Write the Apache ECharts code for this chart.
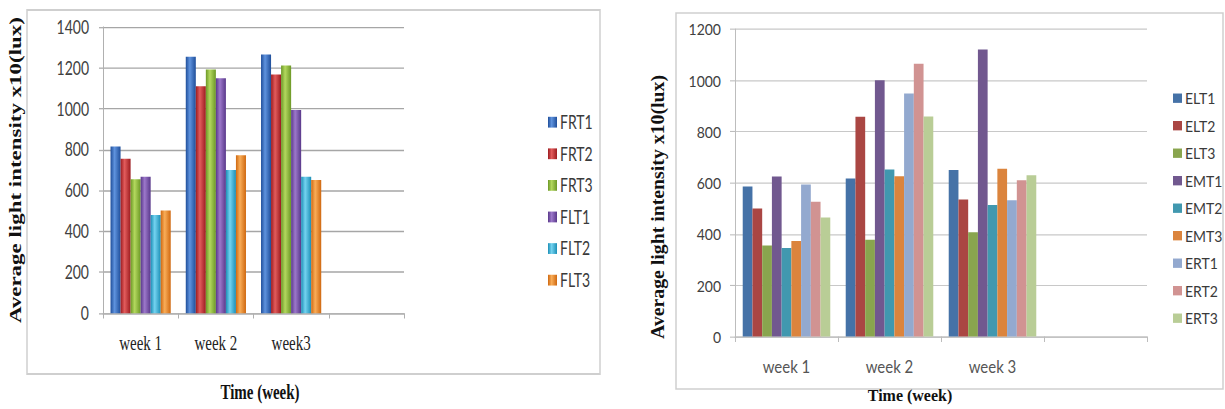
<!DOCTYPE html>
<html>
<head>
<meta charset="utf-8">
<script src="https://cdn.jsdelivr.net/npm/echarts@6/dist/echarts.min.js"></script>
<style>
  html, body { margin: 0; padding: 0; background: #ffffff; }
  body { width: 1225px; height: 409px; position: relative; overflow: hidden; }
  .panel { position: absolute; top: 0; transform-origin: 0 0; }
</style>
</head>
<body>
<div id="left" class="panel"></div>
<div id="right" class="panel"></div>
<script>
// ---- Left panel: F series ----
const leftWeeks = ['week 1', 'week 2', 'week3', ''];
const leftNames = ['FRT1', 'FRT2', 'FRT3', 'FLT1', 'FLT2', 'FLT3'];
const FRT1 = [816, 1255, 1265];
const FRT2 = [755, 1110, 1168];
const FRT3 = [655, 1192, 1212];
const FLT1 = [668, 1149, 994];
const FLT2 = [480, 700, 668];
const FLT3 = [502, 773, 652];
const leftTicks = { min: 0, max: 1400, step: 200 };

// ---- Right panel: E series ----
const rightWeeks = ['week 1', 'week 2', 'week 3', ''];
const rightNames = ['ELT1', 'ELT2', 'ELT3', 'EMT1', 'EMT2', 'EMT3', 'ERT1', 'ERT2', 'ERT3'];
const ELT1 = [586, 617, 650];
const ELT2 = [500, 858, 535];
const ELT3 = [355, 378, 407];
const EMT1 = [625, 1000, 1120];
const EMT2 = [346, 652, 513];
const EMT3 = [373, 626, 655];
const ERT1 = [593, 948, 532];
const ERT2 = [526, 1064, 610];
const ERT3 = [465, 859, 629];
const rightTicks = { min: 0, max: 1200, step: 200 };

const leftValues = [FRT1, FRT2, FRT3, FLT1, FLT2, FLT3];
const rightValues = [ELT1, ELT2, ELT3, EMT1, EMT2, EMT3, ERT1, ERT2, ERT3];

// Cylinder-like shading for the left bars: [edge, highlight]
const leftShades = [
  ['#1f4e9a', '#5f93de'],
  ['#9c1b1f', '#e25c5c'],
  ['#6c9826', '#b3d85e'],
  ['#59388a', '#9c78ca'],
  ['#1c8fb6', '#74d3f0'],
  ['#cf6810', '#f9ad58']
];
const rightColors = ['#4572a7', '#aa4643', '#89a54e', '#71588f', '#4198af', '#db843d', '#93a9cf', '#d19392', '#b9cd96'];

const SANS = 'Lato, "Open Sans", "Liberation Sans", sans-serif';
const SERIF = '"Liberation Serif", "DejaVu Serif", serif';

function cylinder(edge, light) {
  return {
    type: 'linear', x: 0, y: 0, x2: 1, y2: 0,
    colorStops: [
      { offset: 0, color: edge },
      { offset: 0.4, color: light },
      { offset: 1, color: edge }
    ]
  };
}

// Plain integers on the value axes (no thousands separator)
const plainNumber = v => String(v);

// Each panel is drawn at reduced height and stretched vertically with CSS.
function setupPanel(id, left, width, sy) {
  const el = document.getElementById(id);
  el.style.left = left + 'px';
  el.style.width = width + 'px';
  el.style.height = (409 / sy) + 'px';
  el.style.transform = 'scaleY(' + sy + ')';
  return echarts.init(el, null, { renderer: 'svg' });
}

// ---------- Left chart ----------
const SYL = 1.35;
const leftChart = setupPanel('left', 0, 612, SYL);
leftChart.setOption({
  animation: false,
  backgroundColor: '#ffffff',
  graphic: [{
    type: 'rect',
    shape: { x: 27, y: 10 / SYL, width: 573, height: 364 / SYL },
    style: { fill: 'none', stroke: '#cfcfcf', lineWidth: 1.5 },
    silent: true
  }],
  grid: { left: 103, top: 27 / SYL, width: 301, height: 290 / SYL, containLabel: false },
  legend: {
    orient: 'vertical',
    left: 543,
    top: 106 / SYL,
    itemWidth: 9,
    itemHeight: 8,
    itemGap: 9.4,
    icon: 'rect',
    data: leftNames,
    textStyle: { fontFamily: SANS, fontSize: 14, lineHeight: 14, color: '#3a3a3a', padding: [0, 0, 0, -2] }
  },
  xAxis: {
    type: 'category',
    data: leftWeeks,
    axisLine: { show: true, lineStyle: { color: '#b0b0b0', width: 1 } },
    axisTick: { show: true, length: 4, lineStyle: { color: '#b0b0b0' } },
    axisLabel: { fontFamily: SERIF, fontSize: 15, color: '#222222', margin: 15 },
    name: 'Time (week)',
    nameLocation: 'middle',
    nameGap: 51,
    nameTextStyle: { fontFamily: SERIF, fontSize: 15, fontWeight: 'bold', color: '#111111', padding: [0, 0, 0, 13] }
  },
  yAxis: {
    type: 'value',
    min: leftTicks.min,
    max: leftTicks.max,
    interval: leftTicks.step,
    axisLine: { show: true, lineStyle: { color: '#b0b0b0', width: 1 } },
    axisTick: { show: true, length: 4, lineStyle: { color: '#b0b0b0' } },
    splitLine: { show: true, lineStyle: { color: '#a6a6a6', width: 1 } },
    axisLabel: { fontFamily: SANS, fontSize: 14, color: '#404040', margin: 14, formatter: plainNumber },
    name: 'Average light intensity x10(lux)',
    nameLocation: 'middle',
    nameGap: 79,
    nameRotate: 90,
    nameTextStyle: { fontFamily: SERIF, fontSize: 17, fontWeight: 'bold', color: '#111111' }
  },
  series: leftNames.map((name, i) => ({
    name: name,
    type: 'bar',
    data: leftValues[i],
    barGap: '0%',
    barCategoryGap: '20%',
    itemStyle: { color: cylinder(leftShades[i][0], leftShades[i][1]) }
  }))
});

// ---------- Right chart ----------
const SYR = 1.1;
const RX = 612;
const rightChart = setupPanel('right', RX, 613, SYR);
rightChart.setOption({
  animation: false,
  backgroundColor: '#ffffff',
  graphic: [{
    type: 'rect',
    shape: { x: 676 - RX, y: 13 / SYR, width: 547, height: 376 / SYR },
    style: { fill: 'none', stroke: '#cfcfcf', lineWidth: 1.5 },
    silent: true
  }],
  grid: { left: 735 - RX, top: 29 / SYR, width: 412, height: 310 / SYR, containLabel: false },
  legend: {
    orient: 'vertical',
    left: 1168 - RX,
    top: 85 / SYR,
    itemWidth: 9,
    itemHeight: 8.5,
    itemGap: 11,
    icon: 'rect',
    data: rightNames,
    textStyle: { fontFamily: SANS, fontSize: 14, lineHeight: 14, color: '#3a3a3a', padding: [0, 0, 0, -2] }
  },
  xAxis: {
    type: 'category',
    data: rightWeeks,
    axisLine: { show: true, lineStyle: { color: '#bdbdbd', width: 1 } },
    axisTick: { show: true, length: 5, lineStyle: { color: '#bdbdbd' } },
    axisLabel: { fontFamily: SANS, fontSize: 15, color: '#555555', margin: 19 },
    name: 'Time (week)',
    nameLocation: 'middle',
    nameGap: 45,
    nameTextStyle: { fontFamily: SERIF, fontSize: 16, fontWeight: 'bold', color: '#111111', padding: [0, 62, 0, 0] }
  },
  yAxis: {
    type: 'value',
    min: rightTicks.min,
    max: rightTicks.max,
    interval: rightTicks.step,
    axisLine: { show: true, lineStyle: { color: '#bdbdbd', width: 1 } },
    axisTick: { show: true, length: 5, lineStyle: { color: '#bdbdbd' } },
    splitLine: { show: true, lineStyle: { color: '#c8c8c8', width: 1 } },
    axisLabel: { fontFamily: SANS, fontSize: 14, color: '#404040', margin: 14, formatter: plainNumber },
    name: 'Average light intensity x10(lux)',
    nameLocation: 'middle',
    nameGap: 68,
    nameRotate: 90,
    nameTextStyle: { fontFamily: SERIF, fontSize: 18, fontWeight: 'bold', color: '#111111', padding: [0, 44, 0, 0] }
  },
  series: rightNames.map((name, i) => ({
    name: name,
    type: 'bar',
    data: rightValues[i],
    barGap: '0%',
    barCategoryGap: '15%',
    itemStyle: { color: rightColors[i] }
  }))
});
</script>
</body>
</html>
